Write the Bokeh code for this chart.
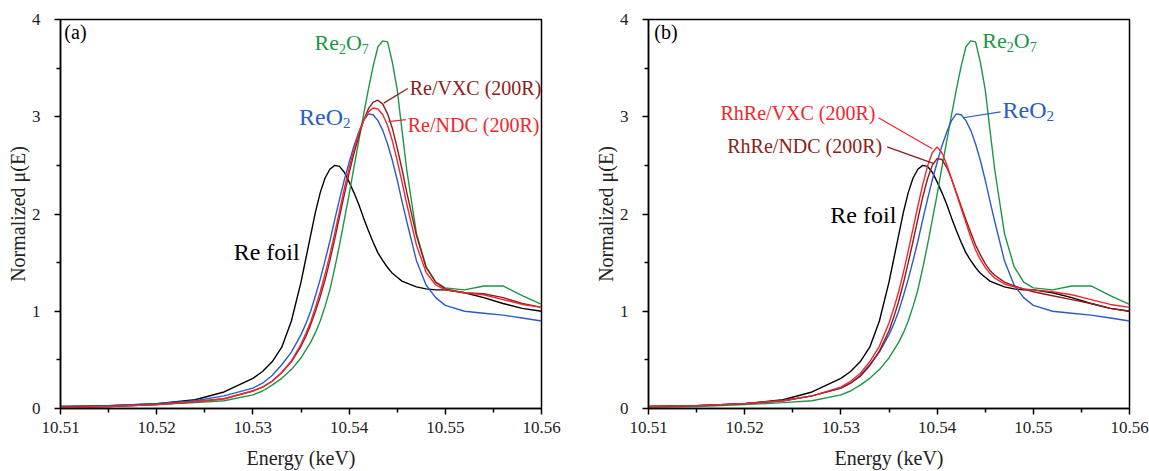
from bokeh.plotting import figure
from bokeh.layouts import row
from bokeh.models import Range1d, FixedTicker, PrintfTickFormatter, Label
from bokeh.embed import file_html
from bokeh.resources import INLINE

# ---------------- data ----------------
energy = [10.510, 10.515, 10.520, 10.524, 10.527, 10.530, 10.531, 10.532, 10.533, 10.534, 10.535,
          10.5355, 10.536, 10.5365, 10.537, 10.5375, 10.538, 10.5385, 10.539, 10.5395, 10.540,
          10.5405, 10.541, 10.5415, 10.542, 10.5425, 10.543, 10.5435, 10.544, 10.5445, 10.545,
          10.5455, 10.546,
          10.547, 10.548, 10.549, 10.550, 10.552, 10.554, 10.556, 10.558, 10.560]

re_foil = [0.02, 0.03, 0.05, 0.09, 0.17, 0.31, 0.38, 0.48, 0.63, 0.90, 1.30,
           1.54, 1.78, 2.02, 2.22, 2.37, 2.46, 2.50, 2.49, 2.43, 2.33,
           2.22, 2.10, 1.96, 1.83, 1.71, 1.60, 1.52, 1.45, 1.39, 1.35,
           1.31, 1.29,
           1.25, 1.23, 1.22, 1.22, 1.19, 1.14, 1.08, 1.03, 1.00]

reo2 = [0.02, 0.03, 0.05, 0.08, 0.13, 0.21, 0.26, 0.34, 0.45, 0.58, 0.76,
        0.87, 1.00, 1.16, 1.33, 1.52, 1.72, 1.94, 2.15, 2.35, 2.53,
        2.70, 2.84, 2.96, 3.03, 3.02, 2.96, 2.86, 2.72, 2.55, 2.35,
        2.13, 1.92,
        1.52, 1.27, 1.14, 1.06, 1.00, 0.98, 0.96, 0.93, 0.90]

re2o7 = [0.01, 0.02, 0.04, 0.06, 0.08, 0.14, 0.18, 0.24, 0.31, 0.40, 0.52,
         0.60, 0.68, 0.78, 0.90, 1.05, 1.22, 1.44, 1.68, 1.94, 2.20,
         2.48, 2.75, 3.02, 3.28, 3.52, 3.72, 3.78, 3.77, 3.56, 3.28,
         2.86, 2.45,
         1.80, 1.46, 1.30, 1.24, 1.22, 1.26, 1.26, 1.16, 1.07]

re_vxc = [0.01, 0.02, 0.04, 0.07, 0.10, 0.18, 0.22, 0.28, 0.37, 0.48, 0.64,
          0.74, 0.86, 1.00, 1.15, 1.32, 1.52, 1.74, 1.97, 2.20, 2.42,
          2.62, 2.80, 2.96, 3.08, 3.15, 3.17, 3.13, 3.03, 2.88, 2.68,
          2.46, 2.22,
          1.78, 1.45, 1.30, 1.23, 1.19, 1.18, 1.14, 1.08, 1.04]

re_ndc = [0.01, 0.02, 0.04, 0.07, 0.10, 0.18, 0.22, 0.28, 0.37, 0.49, 0.66,
          0.77, 0.89, 1.04, 1.20, 1.38, 1.58, 1.80, 2.03, 2.26, 2.47,
          2.66, 2.83, 2.96, 3.05, 3.09, 3.08, 3.02, 2.91, 2.75, 2.55,
          2.33, 2.10,
          1.68, 1.40, 1.27, 1.22, 1.19, 1.17, 1.12, 1.07, 1.04]

rhre_vxc = [0.02, 0.03, 0.05, 0.08, 0.13, 0.22, 0.28, 0.36, 0.48, 0.64, 0.88,
            1.03, 1.20, 1.40, 1.62, 1.85, 2.08, 2.30, 2.49, 2.63, 2.69,
            2.63, 2.51, 2.36, 2.21, 2.06, 1.91, 1.76, 1.63, 1.53, 1.45,
            1.39, 1.34,
            1.28, 1.25, 1.23, 1.22, 1.20, 1.17, 1.12, 1.07, 1.04]

rhre_ndc = [0.02, 0.03, 0.05, 0.08, 0.13, 0.21, 0.26, 0.33, 0.44, 0.59, 0.80,
            0.94, 1.10, 1.29, 1.50, 1.72, 1.95, 2.17, 2.36, 2.50, 2.57,
            2.56, 2.48, 2.36, 2.22, 2.08, 1.94, 1.81, 1.68, 1.58, 1.49,
            1.42, 1.37,
            1.30, 1.26, 1.23, 1.20, 1.16, 1.12, 1.08, 1.03, 1.00]

x_ticks = [10.51, 10.52, 10.53, 10.54, 10.55, 10.56]
x_minor = [10.515, 10.525, 10.535, 10.545, 10.555]
y_ticks = [0, 1, 2, 3, 4]
y_minor = [0.5, 1.5, 2.5, 3.5]

FONT = "Liberation Serif"
BLACK = "#000000"
BLUE = "#2b5cc6"
GREEN = "#1b9647"
RED = "#f2262c"
DARKRED = "#8c1d1d"

# approximate Times advance widths (em)
CW = {"R": 0.667, "e": 0.444, "O": 0.722, "2": 0.5, "7": 0.5}
BASE_DY = 8  # pixel correction for label baseline placement


def text_width(s, size):
    return sum(CW.get(c, 0.5) for c in s) * size


def make_panel(left_border, right_border):
    p = figure(frame_width=481, frame_height=389, output_backend="svg", toolbar_location=None,
               x_range=Range1d(10.51, 10.56), y_range=Range1d(0, 4),
               min_border_left=left_border, min_border_right=right_border,
               min_border_top=19, min_border_bottom=62)
    p.grid.visible = False
    p.outline_line_color = "black"
    p.outline_line_width = 1.5
    p.outline_line_alpha = 1.0
    p.xaxis.ticker = FixedTicker(ticks=x_ticks, minor_ticks=x_minor)
    p.yaxis.ticker = FixedTicker(ticks=y_ticks, minor_ticks=y_minor)
    p.xaxis.formatter = PrintfTickFormatter(format="%.2f")
    p.yaxis.formatter = PrintfTickFormatter(format="%d")
    p.xaxis.axis_label = "Energy (keV)"
    p.yaxis.axis_label = "Normalized \u03bc(E)"
    for ax in (p.xaxis[0], p.yaxis[0]):
        ax.axis_line_width = 1.5
        ax.major_tick_line_width = 1.5
        ax.minor_tick_line_width = 1.5
        ax.major_tick_out = 6
        ax.major_tick_in = 0
        ax.minor_tick_out = 4
        ax.minor_tick_in = 0
        ax.major_label_text_font = FONT
        ax.major_label_text_font_size = "17px"
        ax.major_label_text_color = "#222222"
        ax.axis_label_text_font = FONT
        ax.axis_label_text_font_size = "20px"
        ax.axis_label_text_font_style = "normal"
        ax.axis_label_text_color = "#222222"
    p.xaxis.major_label_standoff = 7
    p.xaxis.axis_label_standoff = 11
    p.yaxis.major_label_standoff = 14
    p.yaxis.axis_label_standoff = 0
    return p


def label(p, x, y, text, color, size, align="left"):
    p.add_layout(Label(x=x, y=y, y_offset=BASE_DY, text=text, text_color=color, text_font=FONT,
                       text_font_size=f"{size}px", text_align=align,
                       text_baseline="alphabetic"))


def sub_label(p, x, y, parts, color, size, sub_size):
    # parts: list of (text, is_subscript)
    off = 0.0
    for txt, is_sub in parts:
        s = sub_size if is_sub else size
        p.add_layout(Label(x=x, y=y, x_offset=off, y_offset=BASE_DY - (6 if is_sub else 0),
                           text=txt, text_color=color, text_font=FONT,
                           text_font_size=f"{s}px", text_baseline="alphabetic"))
        off += text_width(txt, s)


LW = 1.4

# ---------------- panel (a) ----------------
pa = make_panel(60, 20)
pa.line(energy, re_foil, line_color=BLACK, line_width=LW)
pa.line(energy, re2o7, line_color=GREEN, line_width=LW)
pa.line(energy, reo2, line_color=BLUE, line_width=LW)
pa.line(energy, re_vxc, line_color=DARKRED, line_width=LW)
pa.line(energy, re_ndc, line_color=RED, line_width=LW)

label(pa, 10.5104, 3.79, "(a)", BLACK, 20)
label(pa, 10.5280, 1.53, "Re foil", BLACK, 24)
sub_label(pa, 10.5364, 3.68, [("Re", False), ("2", True), ("O", False), ("7", True)], GREEN, 22, 14)
sub_label(pa, 10.5348, 2.92, [("ReO", False), ("2", True)], BLUE, 24, 15)
label(pa, 10.5463, 3.21, "Re/VXC (200R)", DARKRED, 20)
label(pa, 10.5461, 2.83, "Re/NDC (200R)", RED, 20)
pa.segment(x0=[10.5436], y0=[3.14], x1=[10.5461], y1=[3.29], line_color=DARKRED, line_width=1.2)
pa.segment(x0=[10.5441], y0=[2.95], x1=[10.5459], y1=[2.97], line_color=RED, line_width=1.2)

# ---------------- panel (b) ----------------
pb = make_panel(87, 20)
pb.line(energy, re_foil, line_color=BLACK, line_width=LW)
pb.line(energy, re2o7, line_color=GREEN, line_width=LW)
pb.line(energy, reo2, line_color=BLUE, line_width=LW)
pb.line(energy, rhre_ndc, line_color=DARKRED, line_width=LW)
pb.line(energy, rhre_vxc, line_color=RED, line_width=LW)

label(pb, 10.5106, 3.79, "(b)", BLACK, 20)
label(pb, 10.5289, 1.91, "Re foil", BLACK, 24)
sub_label(pb, 10.5447, 3.70, [("Re", False), ("2", True), ("O", False), ("7", True)], GREEN, 22, 14)
sub_label(pb, 10.5468, 2.99, [("ReO", False), ("2", True)], BLUE, 24, 15)
label(pb, 10.5336, 2.96, "RhRe/VXC (200R)", RED, 20, align="right")
label(pb, 10.5343, 2.62, "RhRe/NDC (200R)", DARKRED, 20, align="right")
pb.segment(x0=[10.5427], y0=[2.99], x1=[10.5466], y1=[3.05], line_color=BLUE, line_width=1.2)
pb.segment(x0=[10.5339], y0=[2.99], x1=[10.5395], y1=[2.67], line_color=RED, line_width=1.2)
pb.segment(x0=[10.5348], y0=[2.69], x1=[10.5396], y1=[2.52], line_color=DARKRED, line_width=1.2)

layout = row(pa, pb)
open("out.html", "w").write(file_html(layout, INLINE))
